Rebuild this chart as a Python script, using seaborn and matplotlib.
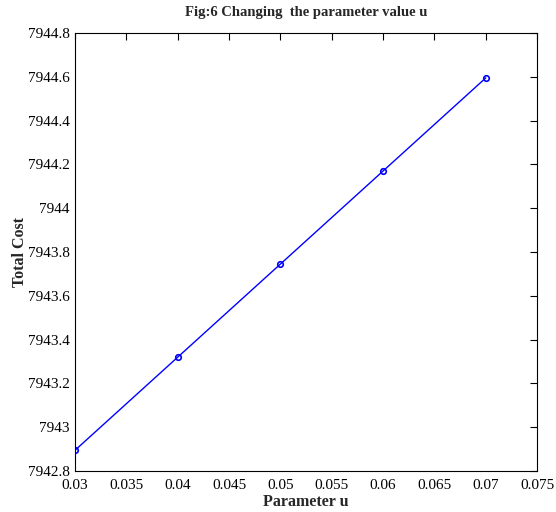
import matplotlib
matplotlib.use('Agg')
import matplotlib.pyplot as plt
from matplotlib.ticker import FuncFormatter, MultipleLocator
import seaborn as sns
import pandas as pd

# Data
param_u = [0.03, 0.04, 0.05, 0.06, 0.07]
total_cost = [7942.895, 7943.32, 7943.745, 7944.17, 7944.595]

df = pd.DataFrame({'Parameter u': param_u, 'Total Cost': total_cost})

sns.set_theme(style='white')
plt.rcParams['font.family'] = ['Liberation Serif', 'DejaVu Serif']

fig = plt.figure(figsize=(5.56, 5.12), dpi=100)
ax = fig.add_axes([0.135, 0.080, 0.831, 0.8555])

sns.lineplot(data=df, x='Parameter u', y='Total Cost', ax=ax, color='#0000ff',
             linewidth=1.0, marker='o', markersize=4, markerfacecolor='none',
             markeredgecolor='#0000ff', markeredgewidth=1.2)

ax.set_xlim(0.03, 0.075)
ax.set_ylim(7942.8, 7944.8)
ax.xaxis.set_major_locator(MultipleLocator(0.005))
ax.yaxis.set_major_locator(MultipleLocator(0.2))
fmt = FuncFormatter(lambda v, p: '%g' % round(v, 4))
ax.xaxis.set_major_formatter(fmt)
ax.yaxis.set_major_formatter(fmt)

ax.tick_params(direction='in', length=5, width=0.8, top=True, right=True,
               labelsize=11, colors='black')
ax.tick_params(axis='x', pad=6)
ax.tick_params(axis='y', pad=4)
for s in ax.spines.values():
    s.set_color('black')
    s.set_linewidth(0.8)

ax.set_title('Fig:6 Changing  the parameter value u', fontsize=10.5,
             fontweight='bold', pad=12)
ax.set_xlabel('Parameter u', fontsize=11.5, fontweight='bold', labelpad=1)
ax.set_ylabel('Total Cost', fontsize=11.5, fontweight='bold', labelpad=0)

fig.savefig('out.png', dpi=100, facecolor='white')
